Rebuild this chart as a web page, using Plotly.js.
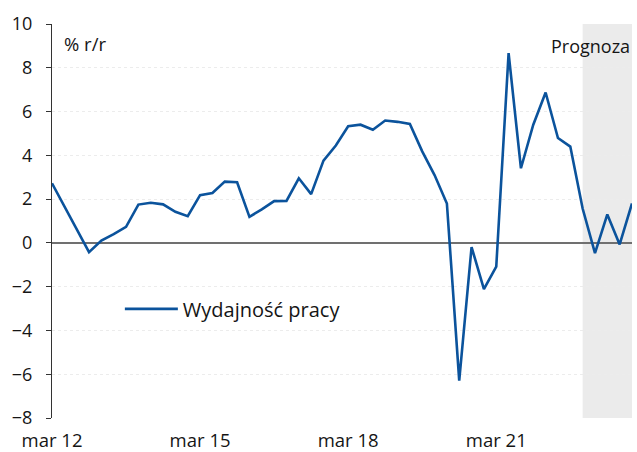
<!DOCTYPE html>
<html>
<head>
<meta charset="utf-8">
<script src="https://cdn.plot.ly/plotly-3.0.1.min.js"></script>
<style>html,body{margin:0;padding:0;background:#fff;}#chart{width:637px;height:452px;}</style>
</head>
<body>
<div id="chart"></div>
<script>
// Quarterly data, Q1 2012 .. Q4 2023 (index 0..47)
const quarterIndex = Array.from({length: 48}, (_, i) => i);
const productivity = [
  2.72, 1.68, 0.62, -0.42, 0.11, 0.40, 0.73, 1.75, 1.83, 1.76, 1.42, 1.22,
  2.18, 2.28, 2.80, 2.77, 1.19, 1.53, 1.91, 1.92, 2.95, 2.23, 3.76, 4.45,
  5.33, 5.40, 5.17, 5.59, 5.53, 5.43, 4.18, 3.10, 1.80, -6.29, -0.19, -2.11,
  -1.08, 8.67, 3.41, 5.40, 6.87, 4.79, 4.40, 1.57, -0.47, 1.30, -0.07, 1.80
];
const tickPositions = [0, 12, 24, 36];
const tickLabels = ["mar 12", "mar 15", "mar 18", "mar 21"];
const forecastStart = 43;
const forecastEnd = 47;
const seriesName = "Wydajność pracy";

const FONT = "Open Sans";
const blue = "#0b539c";
const TXT = "#151515";

const traces = [{
  x: quarterIndex,
  y: productivity,
  type: "scatter",
  mode: "lines",
  name: seriesName,
  line: {color: blue, width: 2.6},
  hoverinfo: "x+y"
}];

const layout = {
  width: 637, height: 452,
  margin: {l: 52, r: 5, t: 24, b: 34},
  paper_bgcolor: "#fff", plot_bgcolor: "#fff",
  font: {family: FONT, size: 17, color: TXT},
  showlegend: true,
  legend: {x: 0.117, y: 0.277, xanchor: "left", yanchor: "middle",
           bgcolor: "rgba(0,0,0,0)", font: {family: FONT, size: 20, color: TXT},
           itemwidth: 53},
  xaxis: {
    range: [0, forecastEnd],
    tickvals: tickPositions, ticktext: tickLabels,
    showgrid: false, zeroline: false, showline: false,
    ticks: "", ticklabelstandoff: 9,
    tickfont: {family: FONT, size: 18.5, color: TXT},
    fixedrange: true
  },
  xaxis2: {
    overlaying: "x", matches: "x", anchor: "free", position: 8/18,
    range: [0, forecastEnd],
    tickvals: tickPositions, showticklabels: false,
    ticks: "outside", ticklen: 4, tickcolor: "#666", tickwidth: 1,
    showgrid: false, zeroline: false, showline: false
  },
  yaxis: {
    range: [-8, 10], dtick: 2, tick0: 0,
    showgrid: true, gridcolor: "#ececec", griddash: "dot", gridwidth: 1,
    zeroline: true, zerolinecolor: "#707070", zerolinewidth: 1.5,
    showline: true, linecolor: "#333", linewidth: 1,
    ticks: "outside", ticklen: 5, tickcolor: "#333",
    ticklabelstandoff: 10,
    tickfont: {family: FONT, size: 18, color: TXT},
    fixedrange: true
  },
  shapes: [{
    type: "rect", xref: "x", yref: "paper",
    x0: forecastStart, x1: forecastEnd, y0: 0, y1: 1,
    fillcolor: "#ebebeb", line: {width: 0}, layer: "below"
  }],
  annotations: [
    {text: "% r/r", xref: "paper", yref: "paper", x: 0.017, y: 0.95,
     xanchor: "left", yanchor: "middle", showarrow: false,
     font: {family: FONT, size: 18.5, color: TXT}},
    {text: "Prognoza", xref: "paper", yref: "paper", x: 1.0, y: 0.945,
     xanchor: "right", yanchor: "middle", showarrow: false,
     font: {family: FONT, size: 18, color: TXT}}
  ]
};

Plotly.newPlot("chart", traces, layout, {displayModeBar: false, staticPlot: true});
</script>
</body>
</html>
